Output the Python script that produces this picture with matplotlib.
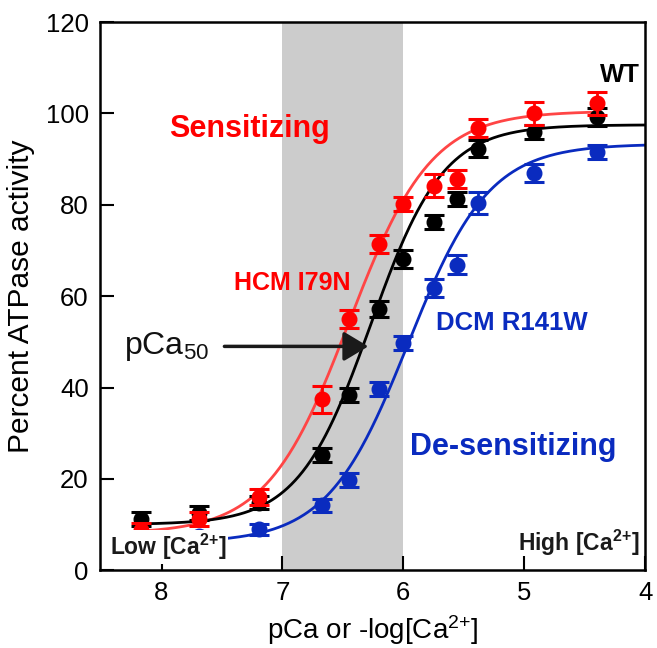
import numpy as np
import matplotlib
matplotlib.use("Agg")
import matplotlib.pyplot as plt

plt.rcParams['font.family'] = ['Liberation Sans', 'DejaVu Sans']
plt.rcParams['mathtext.default'] = 'regular'

# ---- data ----
pca = [8.17, 7.69, 7.19, 6.67, 6.45, 6.20, 6.00, 5.75, 5.56, 5.38, 4.92, 4.40]

wt_y   = [11.2, 12.6, 14.8, 25.3, 38.3, 57.2, 68.2, 76.2, 81.3, 92.3, 95.9, 99.2]
wt_err = [1.5, 1.5, 1.5, 1.5, 1.5, 1.8, 2.0, 1.5, 1.5, 1.8, 1.5, 2.0]

hcm_y   = [8.8, 11.2, 16.0, 37.4, 55.0, 71.4, 80.2, 84.2, 85.6, 96.8, 100.0, 102.2]
hcm_err = [1.5, 1.5, 1.8, 3.0, 2.0, 2.0, 1.5, 2.5, 2.0, 2.0, 2.5, 2.5]

dcm_y   = [7.0, 7.6, 9.0, 14.2, 19.8, 39.6, 49.8, 61.8, 66.9, 80.4, 87.0, 91.5]
dcm_err = [1.0, 1.0, 1.2, 1.5, 1.5, 1.5, 1.5, 2.0, 2.0, 2.5, 2.0, 1.5]

# Hill fit parameters: bottom, top, pCa50, Hill coefficient
wt_fit  = (10.0, 97.5, 6.27, 1.45)
hcm_fit = (8.0, 100.5, 6.45, 1.28)
dcm_fit = (6.0, 93.3, 5.96, 1.30)

x_ticks = [8, 7, 6, 5, 4]
y_ticks = [0, 20, 40, 60, 80, 100, 120]

RED = '#ff0000'
RED_LINE = '#ff4545'
BLUE = '#0a2bbf'
BLACK = '#000000'
GRAY = '#cccccc'


def hill(x, p):
    b, t, c, n = p
    x = np.asarray(x)
    return b + (t - b) / (1.0 + 10 ** (n * (x - c)))


fig = plt.figure(figsize=(6.57, 6.48), dpi=100)
ax = fig.add_axes([0.152, 0.12, 0.830, 0.846])

ax.axvspan(7, 6, color=GRAY, zorder=0, lw=0)

xs_full = np.linspace(8.2, 4.0, 400)
xs_red = np.linspace(8.22, 4.42, 400)
ax.plot(xs_red, hill(xs_red, hcm_fit), color=RED_LINE, lw=2, zorder=2)
ax.plot(xs_full, hill(xs_full, wt_fit), color=BLACK, lw=2, zorder=2)
ax.plot(xs_full, hill(xs_full, dcm_fit), color=BLUE, lw=2, zorder=2)

for y, e, c, z in [(dcm_y, dcm_err, BLUE, 3), (wt_y, wt_err, BLACK, 4), (hcm_y, hcm_err, RED, 5)]:
    ax.errorbar(pca, y, yerr=e, fmt='o', color=c, ms=10.5, elinewidth=2,
                capsize=7.5, capthick=2.2, zorder=z)

ax.set_xlim(8.51, 4.0)
ax.set_ylim(0, 120)
ax.set_xticks(x_ticks)
ax.set_yticks(y_ticks)
ax.tick_params(direction='in', length=10, width=1.5, labelsize=18.5, pad=8)
for s in ax.spines.values():
    s.set_linewidth(1.8)

ax.set_xlabel('pCa or -log[Ca$^{2{+}}$]', fontsize=20, labelpad=6)
ax.set_ylabel('Percent ATPase activity', fontsize=21.5, labelpad=8)

ax.text(0.275, 0.805, 'Sensitizing', transform=ax.transAxes, color=RED,
        fontsize=22, fontweight='bold', ha='center', va='center')
ax.text(0.758, 0.224, 'De-sensitizing', transform=ax.transAxes, color=BLUE,
        fontsize=22, fontweight='bold', ha='center', va='center')
ax.text(0.352, 0.524, 'HCM I79N', transform=ax.transAxes, color=RED,
        fontsize=18, fontweight='bold', ha='center', va='center')
ax.text(0.756, 0.451, 'DCM R141W', transform=ax.transAxes, color=BLUE,
        fontsize=18.5, fontweight='bold', ha='center', va='center')
ax.text(0.991, 0.903, 'WT', transform=ax.transAxes, color=BLACK,
        fontsize=18.5, fontweight='bold', ha='right', va='center')
ax.text(0.018, 0.042, 'Low [Ca$^{2{+}}$]', transform=ax.transAxes, color='#1a1a1a',
        fontsize=16.5, fontweight='bold', ha='left', va='center', zorder=6,
        bbox=dict(facecolor='white', edgecolor='none', pad=1.5))
ax.text(0.99, 0.05, 'High [Ca$^{2{+}}$]', transform=ax.transAxes, color='#1a1a1a',
        fontsize=16.5, fontweight='bold', ha='right', va='center', zorder=6)

ax.annotate('', xy=(6.29, 49), xytext=(7.48, 49),
            arrowprops=dict(arrowstyle='-|>,head_length=1.5,head_width=0.9',
                            color='#1a1a1a', lw=2.5, shrinkA=0, shrinkB=0), zorder=7)
ax.text(7.61, 49, 'pCa$_{50}$', fontsize=23, ha='right', va='center', color='#111111')

fig.savefig('out.png', dpi=100)
